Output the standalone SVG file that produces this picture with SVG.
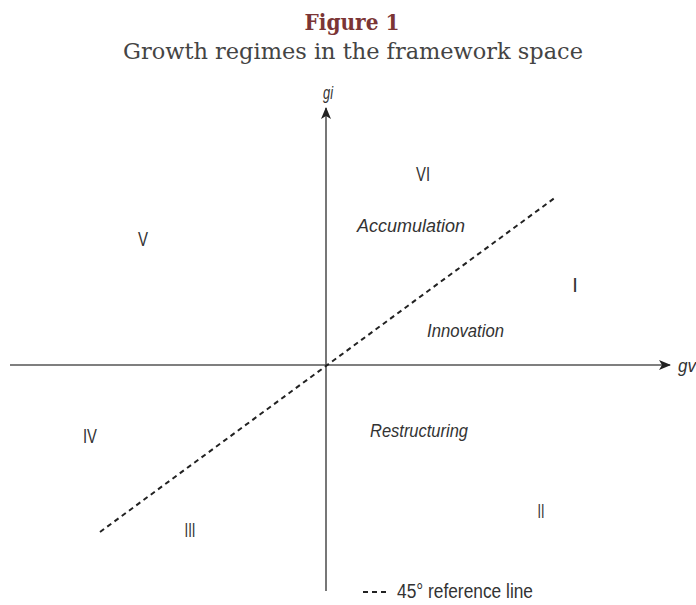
<svg xmlns="http://www.w3.org/2000/svg" width="696" height="605" viewBox="0 0 696 605">
<defs>
<style>
.title{font-family:"DejaVu Serif","Liberation Serif",serif;font-weight:bold;font-size:22px;fill:#7b3535}
.sub{font-family:"DejaVu Serif","Liberation Serif",serif;font-size:22px;fill:#444;font-weight:300}
.lbl{font-family:"Liberation Sans",Arial,sans-serif;font-size:20px;fill:#333}
.it{font-family:"Liberation Sans",Arial,sans-serif;font-size:19px;font-style:italic;fill:#333}
.axis{stroke:#555;stroke-width:1.6;fill:none}
.dash{stroke:#222;stroke-width:2;stroke-dasharray:5 4;fill:none}
</style>
<marker id="arr" markerWidth="12" markerHeight="10" refX="11" refY="5" orient="auto" markerUnits="userSpaceOnUse">
<path d="M0,0 L12,5 L0,10 L3,5 Z" fill="#222"/>
</marker>
</defs>
<rect width="696" height="605" fill="#fff"/>
<g id="title">
<text class="title" x="352" y="30" text-anchor="middle" textLength="95" lengthAdjust="spacingAndGlyphs">Figure 1</text>
<text class="sub" x="353" y="59" text-anchor="middle" textLength="460" lengthAdjust="spacingAndGlyphs">Growth regimes in the framework space</text>
</g>
<g id="connectors">
<line class="axis" x1="10" y1="365" x2="670" y2="365" marker-end="url(#arr)"/>
<line class="axis" x1="326" y1="591" x2="326" y2="108" marker-end="url(#arr)"/>
<line class="dash" x1="100" y1="532" x2="556" y2="197"/>
</g>
<g id="axis-labels">
<text class="it" x="323" y="99" textLength="10" lengthAdjust="spacingAndGlyphs">gi</text>
<text class="it" x="678" y="372" textLength="18" lengthAdjust="spacingAndGlyphs">gv</text>
</g>
<g id="regime-VI"><text class="lbl" x="423" y="181" text-anchor="middle" textLength="14" lengthAdjust="spacingAndGlyphs">VI</text></g>
<g id="regime-V"><text class="lbl" x="143" y="246" text-anchor="middle" textLength="10" lengthAdjust="spacingAndGlyphs">V</text></g>
<g id="regime-I"><text class="lbl" x="575" y="292" text-anchor="middle">I</text></g>
<g id="regime-IV"><text class="lbl" x="90" y="443" text-anchor="middle" textLength="14" lengthAdjust="spacingAndGlyphs">IV</text></g>
<g id="regime-II"><text class="lbl" x="541" y="518" text-anchor="middle" textLength="7" lengthAdjust="spacingAndGlyphs">II</text></g>
<g id="regime-III"><text class="lbl" x="190" y="537" text-anchor="middle" textLength="11" lengthAdjust="spacingAndGlyphs">III</text></g>
<g id="accumulation"><text class="it" x="357" y="232" textLength="108" lengthAdjust="spacingAndGlyphs">Accumulation</text></g>
<g id="innovation"><text class="it" x="427" y="337" textLength="77" lengthAdjust="spacingAndGlyphs">Innovation</text></g>
<g id="restructuring"><text class="it" x="370" y="437" textLength="98" lengthAdjust="spacingAndGlyphs">Restructuring</text></g>
<g id="legend">
<line class="dash" x1="363" y1="592" x2="388" y2="592"/>
<text class="lbl" x="397" y="598" font-size="18" textLength="136" lengthAdjust="spacingAndGlyphs">45° reference line</text>
</g>
</svg>
